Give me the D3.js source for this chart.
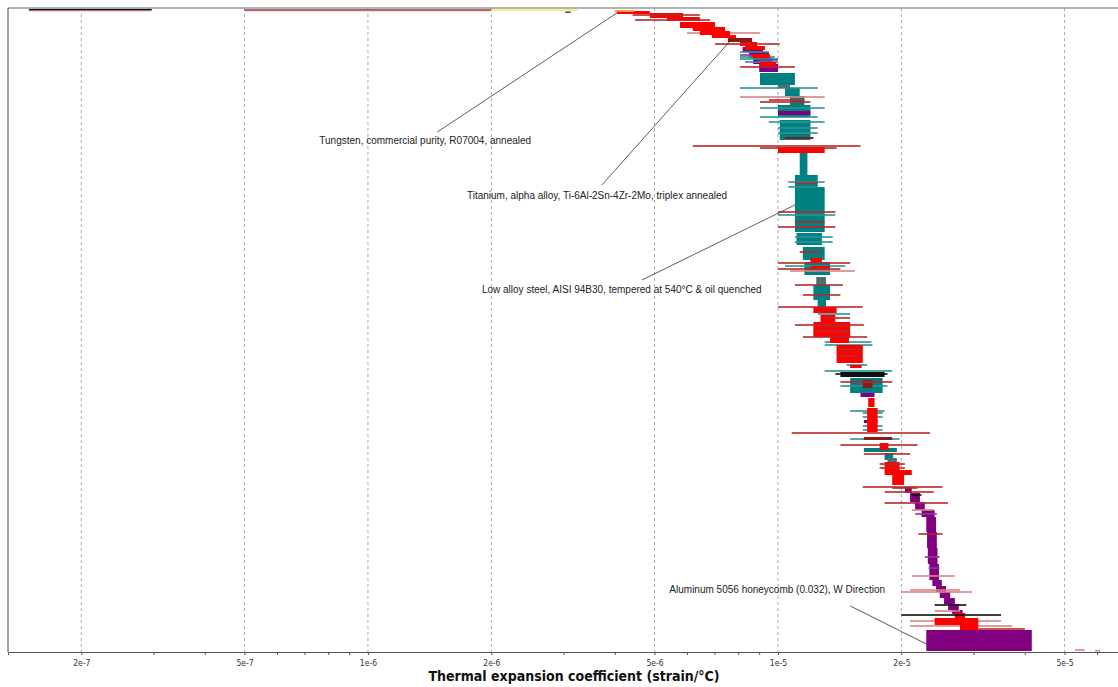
<!DOCTYPE html>
<html>
<head>
<meta charset="utf-8">
<script src="https://cdn.jsdelivr.net/npm/d3@7"></script>
<style>
  body { margin: 0; background: #fff; }
  svg { display: block; font-family: "Liberation Sans", Arial, sans-serif; }
</style>
</head>
<body>
<svg id="chart" width="1118" height="687"></svg>
<script>
// expansion values are in units of 1e-6 /°C
// rank = place of the record in the sorted list (0 = top of chart)

var tickValues = [2e-7, 5e-7, 1e-6, 2e-6, 5e-6, 1e-5, 2e-5, 5e-5];
var tickLabels = ["2e-7", "5e-7", "1e-6", "2e-6", "5e-6", "1e-5", "2e-5", "5e-5"];

// boxes: [rankStart, rankEnd, low, high]
var redBoxes = [
  [1.5, 3, 4.05, 4.87], [2.5, 5, 4.87, 5.87], [4.5, 6.5, 5.36, 6.45],
  [7, 10, 5.77, 7.02], [9.5, 11.5, 6.2, 7.43], [11.5, 13.5, 6.45, 7.64],
  [13.5, 15, 6.9, 7.9], [17, 19, 8.08, 8.9], [19, 21, 8.31, 9.3],
  [23, 25, 8.67, 9.56], [27, 29, 9.04, 9.9], [69.5, 72.5, 10.0, 13.0],
  [125, 127, 12.0, 12.8], [129, 130.5, 12.0, 13.4], [149.5, 152.5, 12.2, 13.9],
  [153.5, 157, 12.7, 13.8], [157, 164.5, 12.2, 15.0], [164.5, 167.5, 13.4, 14.9],
  [168.5, 177.5, 13.9, 16.1], [178.5, 180, 15.0, 16.0], [195, 199.5, 16.6, 17.2],
  [200, 212, 16.5, 17.5], [217.5, 221, 17.7, 18.6], [227, 231, 18.2, 19.8],
  [231, 233.5, 18.2, 21.2], [233.5, 238.5, 19.0, 20.3], [302.5, 305, 27.0, 28.6],
  [305, 308.5, 24.1, 30.8], [308.5, 311, 27.8, 30.8]
];

var tealBoxes = [
  [32.5, 38.5, 9.04, 11.0], [40, 44, 10.4, 11.3], [44, 48.5, 10.7, 11.6],
  [48.5, 54.5, 10.0, 12.0], [56, 66, 10.1, 12.0], [72.5, 84, 11.3, 11.8],
  [83.5, 89.5, 11.0, 12.5], [89.5, 112, 11.0, 13.0], [112.5, 118.5, 11.1, 12.8],
  [119.5, 126, 11.5, 13.0], [127, 133.5, 11.6, 13.4], [138.5, 146, 12.2, 13.4],
  [146, 149.5, 12.5, 13.1], [185, 192.5, 15.0, 18.0], [220, 222, 16.2, 19.5],
  [222.5, 226, 18.2, 19.1]
];

var purpleBoxes = [
  [19.5, 22, 8.2, 9.2], [22, 25, 8.5, 9.5], [25, 28, 8.7, 9.7], [28, 32, 9.0, 10.0],
  [51.5, 53.5, 10.0, 12.0], [192.5, 194.5, 15.9, 17.2], [206, 207.5, 16.2, 17.5],
  [239.5, 242.5, 20.4, 21.2], [242.5, 247, 21.0, 22.2], [247, 251, 21.6, 22.8],
  [251, 254.5, 22.4, 24.1], [254.5, 262, 23.0, 24.3], [262, 270, 23.1, 24.4],
  [270, 278, 23.2, 24.5], [278, 286, 23.4, 24.7], [286, 289, 23.8, 25.1],
  [289, 292, 24.3, 25.7], [292, 295, 24.8, 26.3], [295, 298, 25.4, 27.0],
  [298, 301, 26.0, 27.6], [301, 303, 26.6, 28.2], [311, 321.5, 23.0, 41.6]
];

// [rankStart, rankEnd, low, high, kind]
var otherBoxes = [
  [0.4, 1.0, 0.149, 0.297, "black"], [1.0, 1.6, 0.149, 0.297, "brown"],
  [0.5, 1.6, 0.5, 2.0, "brown"], [0.5, 1.5, 2.0, 3.25, "yellow"],
  [1.8, 2.4, 3.03, 3.12, "black"], [1.0, 2.0, 4.0, 4.45, "orange"],
  [15, 17, 7.55, 8.65, "maroon"],
  [38.5, 40, 10.0, 10.7, "slate"], [64.5, 65.5, 10.4, 12.2, "maroon"],
  [134.5, 138.5, 12.4, 13.1, "slate"], [182, 184.5, 14.2, 18.2, "black"],
  [186, 190, 16.1, 17.0, "maroon"], [214.5, 216, 16.2, 19.0, "maroon"],
  [225, 227, 18.5, 19.5, "slate"]
];

// single records with a wide range: [rank, low, high]
var redLines = [
  [3.5, 4.42, 6.45], [6, 4.48, 6.83], [18, 7.02, 10.1], [29.5, 8.08, 11.0],
  [46, 9.5, 11.6], [47, 9.04, 12.0], [69, 6.2, 15.9], [70, 9.04, 13.9],
  [87.5, 11.0, 12.5], [102, 10.0, 13.8], [107, 11.0, 13.0], [109.5, 10.0, 13.8],
  [122, 11.3, 12.8], [127.5, 10.0, 15.0], [130.5, 10.0, 14.2], [138.5, 11.0, 14.4],
  [143.5, 11.5, 14.2], [149.5, 10.0, 16.1], [155, 13.0, 15.0], [158.5, 11.0, 16.2],
  [159, 12.2, 15.0], [161.5, 12.2, 15.0], [164.5, 11.5, 16.5], [171, 13.9, 16.1],
  [174, 13.9, 16.1], [187, 14.2, 19.0], [212.5, 10.8, 23.5], [218.5, 14.2, 21.9],
  [223, 16.2, 21.0], [228, 17.7, 20.4], [230, 17.7, 20.4], [239.5, 16.1, 25.2],
  [240, 19.0, 21.9], [242, 18.2, 24.0], [247.5, 18.2, 26.0], [263, 22.0, 25.2],
  [310.5, 30.8, 40.0]
];

var pinkLines = [
  [12.5, 6.0, 9.04], [44.5, 8.08, 13.0], [131.5, 10.7, 15.4], [251, 21.2, 24.0],
  [284, 21.2, 27.0], [291, 21.0, 27.8], [292, 20.0, 29.7], [301.5, 24.1, 27.8],
  [306.5, 21.0, 35.0], [309, 21.0, 37.2], [321, 53.0, 56.0], [321.4, 59.4, 61.1]
];

var tealLines = [
  [22, 8.08, 9.5], [24.5, 8.08, 9.83], [25.5, 8.08, 10.0], [27, 8.31, 10.0],
  [40, 8.08, 12.5],
  [50, 9.04, 13.0], [54.5, 9.04, 12.5], [57, 9.5, 13.0], [60, 10.0, 12.5],
  [62.5, 10.0, 12.5], [87, 10.6, 13.0], [89.5, 10.6, 12.5], [103.5, 10.0, 13.8],
  [114.5, 11.0, 13.6], [117, 11.0, 13.6], [129, 10.4, 14.6], [153, 12.5, 15.0],
  [167, 13.0, 16.9], [168.5, 13.0, 17.0], [178.5, 14.7, 16.5], [181.5, 13.0, 19.0],
  [189, 14.2, 18.5], [201.5, 15.0, 18.2], [202.5, 16.1, 18.0], [204.5, 16.1, 18.0],
  [209, 16.1, 18.0], [211, 16.1, 18.0], [215.5, 15.0, 19.8]
];

var purpleLines = [
  [23.5, 8.08, 9.56], [26, 9.0, 10.0], [253, 21.6, 24.4], [274.5, 22.8, 24.8],
  [280, 23.3, 24.8]
];

var blackLines = [
  [183, 13.8, 18.5], [243.5, 21.2, 22.4], [298.5, 24.1, 28.8], [303.5, 20.0, 35.0]
];

var notes = [
  { text: "Tungsten, commercial purity, R07004, annealed", value: 4.08, rank: 2,
    lineDx: -181, lineDy: 120, textDx: -299, textDy: 132 },
  { text: "Titanium, alpha alloy, Ti-6Al-2Sn-4Zr-2Mo, triplex annealed", value: 7.68, rank: 16,
    lineDx: -129, lineDy: 145, textDx: -264, textDy: 159 },
  { text: "Low alloy steel, AISI 94B30, tempered at 540°C & oil quenched", value: 11.0, rank: 98.5,
    lineDx: -153, lineDy: 75, textDx: -313, textDy: 88 },
  { text: "Aluminum 5056 honeycomb (0.032), W Direction", value: 23.8, rank: 319.5,
    lineDx: -82, lineDy: -41, textDx: -263, textDy: -54 }
];

var colors = {
  red: "#ff0000", teal: "#008080", purple: "#800080",
  black: "#111111", brown: "#b06a6a", yellow: "#f5f08a", orange: "#f0a040",
  maroon: "#8b1a1a", slate: "#4f6f70",
  redLine: "#b82828", pinkLine: "#d98484", tealLine: "#2a9494",
  purpleLine: "#8a3a9a", blackLine: "#111111"
};

var unit = 1e-6;
var margin = { left: 8, right: 0, top: 8, bottom: 35 };
var width = 1118, height = 687;

var svg = d3.select("#chart");

var x = d3.scaleLog()
  .domain([1.325e-7, 6.75e-5])
  .range([margin.left, width - margin.right]);

var y = d3.scaleLinear()
  .domain([0, 322])
  .range([margin.top, height - margin.bottom]);

var plotBottom = height - margin.bottom;

// Grid lines
svg.append("g")
  .selectAll("line")
  .data(tickValues)
  .enter()
  .append("line")
  .attr("x1", d => x(d)).attr("x2", d => x(d))
  .attr("y1", margin.top).attr("y2", plotBottom)
  .attr("stroke", "#a8a8a8")
  .attr("stroke-dasharray", "3,3");

// Draw box layers
function drawBoxes(data, color) {
  svg.append("g")
    .selectAll("rect")
    .data(data)
    .enter()
    .append("rect")
    .attr("x", d => x(d[2] * unit))
    .attr("width", d => Math.max(1, x(d[3] * unit) - x(d[2] * unit)))
    .attr("y", d => y(d[0]))
    .attr("height", d => y(d[1]) - y(d[0]))
    .attr("fill", d => color || colors[d[4]]);
}

// Draw thin single-record lines
function drawLines(data, color) {
  svg.append("g")
    .selectAll("rect")
    .data(data)
    .enter()
    .append("rect")
    .attr("x", d => x(d[1] * unit))
    .attr("width", d => x(d[2] * unit) - x(d[1] * unit))
    .attr("y", d => y(d[0]) - 0.8)
    .attr("height", 1.6)
    .attr("fill", color);
}

drawBoxes(tealBoxes, colors.teal);
drawBoxes(purpleBoxes, colors.purple);
drawLines(pinkLines, colors.pinkLine);
drawLines(tealLines, colors.tealLine);
drawLines(purpleLines, colors.purpleLine);
drawBoxes(redBoxes, colors.red);
drawBoxes(otherBoxes);
drawLines(redLines, colors.redLine);
drawLines(blackLines, colors.blackLine);

// Frame
svg.append("line")
  .attr("x1", margin.left).attr("x2", width)
  .attr("y1", margin.top).attr("y2", margin.top)
  .attr("stroke", "#9a9a9a").attr("stroke-width", 1.5);
svg.append("line")
  .attr("x1", margin.left).attr("x2", margin.left)
  .attr("y1", margin.top).attr("y2", plotBottom)
  .attr("stroke", "#444");

// X axis
var minorTicks = [];
[-7, -6, -5].forEach(p => {
  for (var k = 1; k < 10; k++) {
    var v = k * Math.pow(10, p);
    if (v >= x.domain()[0] && v <= x.domain()[1]) minorTicks.push(v);
  }
});

var axis = d3.axisBottom(x)
  .tickValues(minorTicks)
  .tickSize(3)
  .tickFormat(d => {
    var i = tickValues.findIndex(t => Math.abs(t - d) / d < 1e-6);
    return i >= 0 ? tickLabels[i] : "";
  });

var axisG = svg.append("g")
  .attr("transform", `translate(0,${plotBottom})`)
  .call(axis);

axisG.select(".domain").attr("stroke", "#555");
axisG.selectAll(".tick line").attr("stroke", "#555");
axisG.selectAll(".tick text")
  .attr("font-size", 8.5)
  .attr("fill", "#333")
  .attr("font-family", "'DejaVu Sans Condensed', 'Liberation Sans', sans-serif")
  .attr("dy", "0.9em");

svg.append("text")
  .attr("x", 574)
  .attr("y", 681)
  .attr("text-anchor", "middle")
  .attr("font-size", 14)
  .attr("font-weight", "bold")
  .attr("font-family", "'DejaVu Sans Condensed', 'Liberation Sans', sans-serif")
  .attr("fill", "#111")
  .text("Thermal expansion coefficient (strain/°C)");

// Annotations
var noteG = svg.append("g")
  .selectAll("g")
  .data(notes)
  .enter()
  .append("g")
  .attr("transform", d => `translate(${x(d.value * unit)},${y(d.rank)})`);

noteG.append("line")
  .attr("x1", 0).attr("y1", 0)
  .attr("x2", d => d.lineDx).attr("y2", d => d.lineDy)
  .attr("stroke", "#333")
  .attr("stroke-width", 0.8);

noteG.append("text")
  .attr("x", d => d.textDx)
  .attr("y", d => d.textDy)
  .attr("font-size", 10)
  .attr("fill", "#222")
  .text(d => d.text);
</script>
</body>
</html>
